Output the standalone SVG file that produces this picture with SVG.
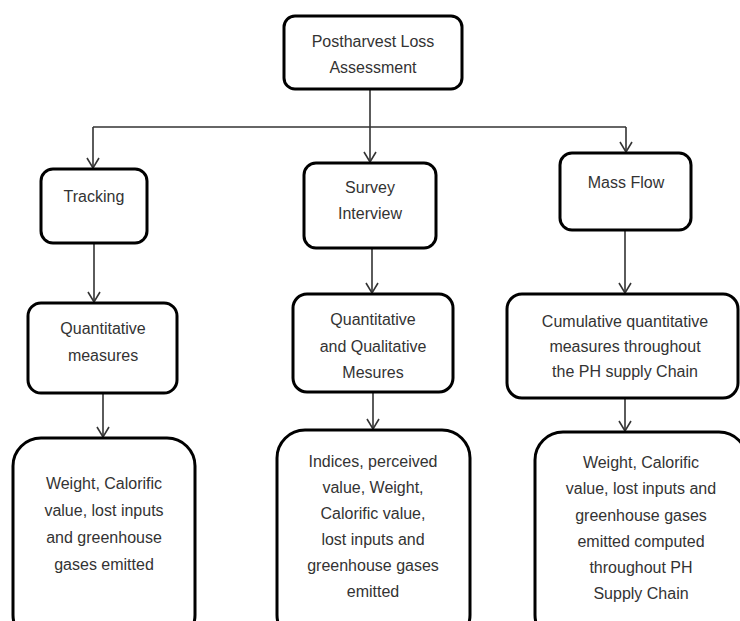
<svg xmlns="http://www.w3.org/2000/svg" width="740" height="621" viewBox="0 0 740 621">
<defs>
<marker id="arr" markerUnits="userSpaceOnUse" markerWidth="14" markerHeight="14" viewBox="0 0 14 14" refX="12" refY="7" orient="auto">
<path d="M2,1 L12,7 L2,13" fill="none" stroke="#333" stroke-width="1.6"/>
</marker>
<style>
.box{fill:#fff;stroke:#000;stroke-width:3}
.t{font-family:"Liberation Sans",Arial,sans-serif;font-size:16px;fill:#333;text-anchor:middle}
.c{fill:none;stroke:#333;stroke-width:1.6}
</style>
</defs>
<rect width="740" height="621" fill="#fff"/>
<g id="connectors">
<path class="c" d="M370,89 V127"/>
<path class="c" d="M93,127 H626"/>
<path class="c" d="M93,127 V168" marker-end="url(#arr)"/>
<path class="c" d="M370,127 V162" marker-end="url(#arr)"/>
<path class="c" d="M626,127 V152" marker-end="url(#arr)"/>
<path class="c" d="M94,243 V302" marker-end="url(#arr)"/>
<path class="c" d="M372,248 V293" marker-end="url(#arr)"/>
<path class="c" d="M625,230 V293" marker-end="url(#arr)"/>
<path class="c" d="M103,393 V437" marker-end="url(#arr)"/>
<path class="c" d="M373,392 V429" marker-end="url(#arr)"/>
<path class="c" d="M625,398 V431" marker-end="url(#arr)"/>
</g>
<g id="root">
<rect class="box" x="284" y="16" width="178" height="73" rx="11"/>
<text class="t" x="373" y="47">Postharvest Loss</text>
<text class="t" x="373" y="73">Assessment</text>
</g>
<g id="tracking">
<rect class="box" x="41" y="169" width="106" height="74" rx="12"/>
<text class="t" x="94" y="202">Tracking</text>
</g>
<g id="survey">
<rect class="box" x="304" y="163" width="132" height="85" rx="12"/>
<text class="t" x="370" y="193">Survey</text>
<text class="t" x="370" y="219">Interview</text>
</g>
<g id="massflow">
<rect class="box" x="560" y="153" width="131" height="77" rx="12"/>
<text class="t" x="626" y="188">Mass Flow</text>
</g>
<g id="quant">
<rect class="box" x="28" y="303" width="149" height="90" rx="13"/>
<text class="t" x="103" y="334">Quantitative</text>
<text class="t" x="103" y="361">measures</text>
</g>
<g id="quantqual">
<rect class="box" x="293" y="294" width="160" height="98" rx="14"/>
<text class="t" x="373" y="325">Quantitative</text>
<text class="t" x="373" y="352">and Qualitative</text>
<text class="t" x="373" y="378">Mesures</text>
</g>
<g id="cumulative">
<rect class="box" x="507" y="294" width="231" height="104" rx="15"/>
<text class="t" x="625" y="327">Cumulative quantitative</text>
<text class="t" x="625" y="352">measures throughout</text>
<text class="t" x="625" y="377">the PH supply Chain</text>
</g>
<g id="out1">
<rect class="box" x="13" y="438" width="182" height="205" rx="28"/>
<text class="t" x="104" y="489">Weight, Calorific</text>
<text class="t" x="104" y="516">value, lost inputs</text>
<text class="t" x="104" y="543">and greenhouse</text>
<text class="t" x="104" y="570">gases emitted</text>
</g>
<g id="out2">
<rect class="box" x="277" y="430" width="193" height="213" rx="28"/>
<text class="t" x="373" y="467">Indices, perceived</text>
<text class="t" x="373" y="493">value, Weight,</text>
<text class="t" x="373" y="519">Calorific value,</text>
<text class="t" x="373" y="545">lost inputs and</text>
<text class="t" x="373" y="571">greenhouse gases</text>
<text class="t" x="373" y="597">emitted</text>
</g>
<g id="out3">
<rect class="box" x="535" y="432" width="212" height="211" rx="28"/>
<text class="t" x="641" y="468">Weight, Calorific</text>
<text class="t" x="641" y="494">value, lost inputs and</text>
<text class="t" x="641" y="521">greenhouse gases</text>
<text class="t" x="641" y="547">emitted computed</text>
<text class="t" x="641" y="573">throughout PH</text>
<text class="t" x="641" y="599">Supply Chain</text>
</g>
</svg>
